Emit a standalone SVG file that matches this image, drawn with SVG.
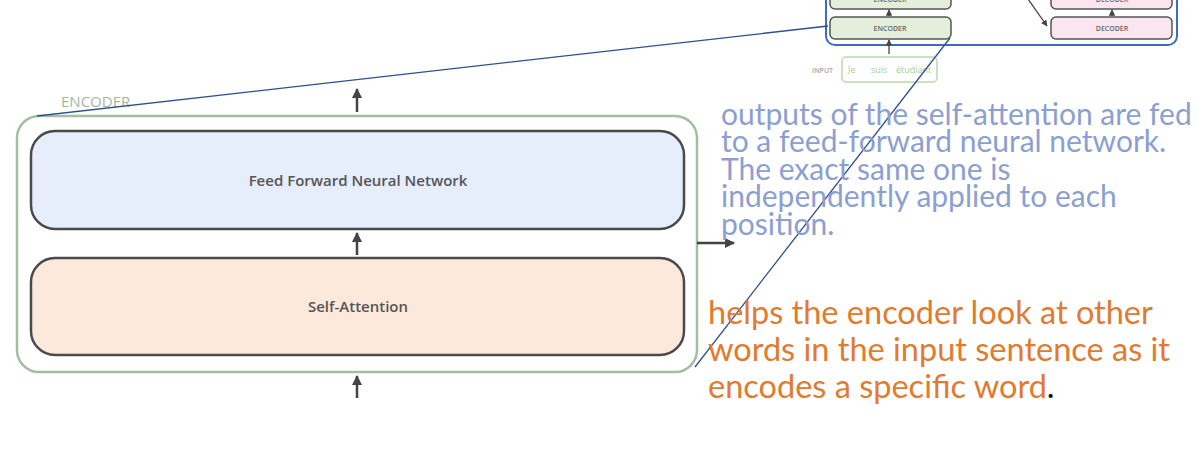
<svg xmlns="http://www.w3.org/2000/svg" width="1197" height="463" viewBox="0 0 1197 463">
<style>
.lbl{font-family:"Open Sans","DejaVu Sans",sans-serif;font-weight:600;fill:#555;}
.blue{font-family:Lato,"Open Sans",sans-serif;fill:#8c9fd0;font-size:30px;}
.orange{font-family:Lato,"Open Sans",sans-serif;fill:#e07b2f;font-size:32.5px;}
.small{font-family:"Open Sans",sans-serif;font-size:7px;font-weight:600;fill:#666;}
.arr{stroke:#444;stroke-width:2.5;fill:none;}
</style>
<defs>
<marker id="ah" viewBox="0 0 10 10" refX="9" refY="5" markerWidth="4" markerHeight="4" orient="auto" markerUnits="strokeWidth">
<path d="M0,0 L10,5 L0,10 z" fill="#444"/>
</marker>
<marker id="ahs" viewBox="0 0 10 10" refX="9" refY="5" markerWidth="5" markerHeight="5" orient="auto" markerUnits="strokeWidth">
<path d="M0,0 L10,5 L0,10 z" fill="#444"/>
</marker>
</defs>
<rect width="1197" height="463" fill="#ffffff"/>

<g id="mini">
<rect x="826" y="-20" width="351" height="65" rx="9" fill="none" stroke="#3d6cc0" stroke-width="2"/>
<rect x="830" y="-14" width="121" height="23" rx="5" fill="#e3efda" stroke="#555" stroke-width="1.5"/>
<text class="small" x="890" y="2" text-anchor="middle">ENCODER</text>
<rect x="830" y="17" width="121" height="22" rx="5" fill="#e3efda" stroke="#555" stroke-width="1.5"/>
<text class="small" x="890" y="31" text-anchor="middle">ENCODER</text>
<rect x="1051" y="-14" width="121" height="23" rx="5" fill="#fbe6ef" stroke="#555" stroke-width="1.5"/>
<text class="small" x="1112" y="2" text-anchor="middle">DECODER</text>
<rect x="1051" y="17" width="121" height="22" rx="5" fill="#fbe6ef" stroke="#555" stroke-width="1.5"/>
<text class="small" x="1112" y="31" text-anchor="middle">DECODER</text>
<line x1="889" y1="16" x2="889" y2="10" stroke="#444" stroke-width="1.3" marker-end="url(#ahs)"/>
<line x1="1112" y1="16" x2="1112" y2="10" stroke="#444" stroke-width="1.3" marker-end="url(#ahs)"/>
<line x1="889" y1="54" x2="889" y2="40" stroke="#444" stroke-width="1.3" marker-end="url(#ahs)"/>
<line x1="1028" y1="-1" x2="1047" y2="26" stroke="#444" stroke-width="1.3" marker-end="url(#ahs)"/>
<text x="812" y="73" style="font-family:'Open Sans',sans-serif;font-size:7px;font-weight:600;fill:#a6a6a6">INPUT</text>
<rect x="842" y="57" width="95" height="25" rx="4" fill="none" stroke="#bcd8b0" stroke-width="1.5"/>
<g style="font-family:'Open Sans',sans-serif;font-size:9px;fill:#a8cf90">
<text x="848" y="73">Je</text>
<text x="871" y="73">suis</text>
<text x="896" y="73">étudiant</text>
</g>
</g>

<g id="encoder">
<rect x="17" y="116" width="680" height="256" rx="22" fill="#ffffff" stroke="#a3bea0" stroke-width="2.5"/>
<text x="61" y="107" style="font-family:'Open Sans',sans-serif;font-size:15px;fill:#a2b89f">ENCODER</text>
</g>

<g id="ffnn">
<rect x="31" y="131" width="653" height="98" rx="24" fill="#e6edfb" stroke="#4a4a4a" stroke-width="2.5"/>
<text class="lbl" x="358" y="186" font-size="15" text-anchor="middle">Feed Forward Neural Network</text>
</g>

<g id="selfatt">
<rect x="31" y="258" width="653" height="97" rx="24" fill="#fde9dc" stroke="#4a4a4a" stroke-width="2.5"/>
<text class="lbl" x="358" y="312" font-size="15" text-anchor="middle">Self-Attention</text>
</g>

<g id="connectors">
<line class="arr" x1="357" y1="112" x2="357" y2="89" marker-end="url(#ah)"/>
<line class="arr" x1="357" y1="255" x2="357" y2="233" marker-end="url(#ah)"/>
<line class="arr" x1="357" y1="398" x2="357" y2="376" marker-end="url(#ah)"/>
<line class="arr" x1="697" y1="243" x2="734" y2="243" marker-end="url(#ah)"/>
<line x1="37" y1="116" x2="828" y2="26" stroke="#2f4f8f" stroke-width="1.3"/>
<line x1="695" y1="367" x2="950" y2="38" stroke="#2f4f8f" stroke-width="1.3"/>
</g>

<g id="note-ffnn" class="blue">
<text x="721" y="125">outputs of the self-attention are fed</text>
<text x="721" y="152">to a feed-forward neural network.</text>
<text x="721" y="180">The exact same one is</text>
<text x="721" y="207">independently applied to each</text>
<text x="721" y="235">position.</text>
</g>

<g id="note-sa" class="orange">
<text x="708" y="324">helps the encoder look at other</text>
<text x="708" y="361">words in the input sentence as it</text>
<text x="708" y="398">encodes a specific word<tspan fill="#111">.</tspan></text>
</g>
</svg>
